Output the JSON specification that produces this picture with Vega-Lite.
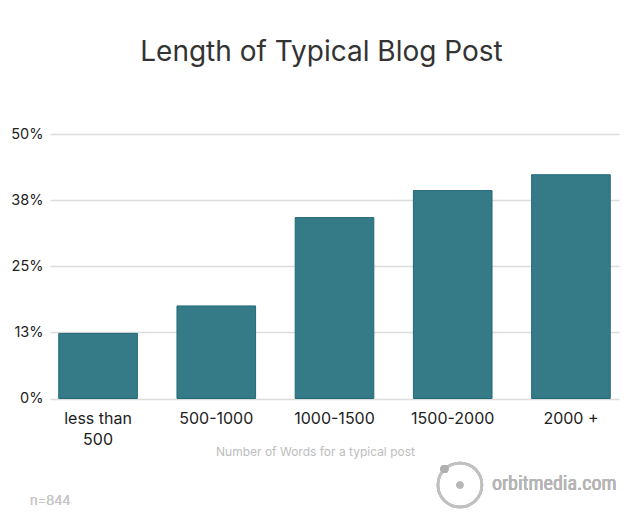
{
  "$schema": "https://vega.github.io/schema/vega-lite/v6.json",
  "width": 569,
  "height": 264.5,
  "autosize": {"type": "none"},
  "padding": {"left": 50, "top": 134, "right": 11, "bottom": 119.5},
  "background": "white",
  "config": {
    "font": "Inter",
    "view": {"stroke": null}
  },
  "title": {
    "text": "Length of Typical Blog Post",
    "fontSize": 28,
    "fontWeight": 400,
    "color": "#333333",
    "anchor": "middle",
    "baseline": "alphabetic",
    "offset": 37,
    "dx": -13
  },
  "data": {
    "values": [
      {"words": "less than 500", "share": 0.123},
      {"words": "500-1000", "share": 0.175},
      {"words": "1000-1500", "share": 0.342},
      {"words": "1500-2000", "share": 0.393},
      {"words": "2000 +", "share": 0.423}
    ]
  },
  "layer": [
    {
      "mark": {"type": "bar", "color": "#347b87", "stroke": "#23697a", "strokeWidth": 1},
      "encoding": {
        "x": {
          "field": "words",
          "type": "nominal",
          "sort": null,
          "scale": {
            "domain": ["less than 500", "500-1000", "1000-1500", "1500-2000", "2000 +"],
            "paddingInner": 0.335,
            "paddingOuter": 0.074
          },
          "axis": {
            "title": "Number of Words for a typical post",
            "titleFontSize": 12,
            "titleFontWeight": "normal",
            "titleColor": "#bdbdbd",
            "titleBaseline": "alphabetic",
            "titleX": 265,
            "titleY": 57,
            "labelExpr": "datum.value == 'less than 500' ? ['less than', '500'] : datum.value",
            "labelFontSize": 16,
            "labelColor": "#222222",
            "labelAngle": 0,
            "labelBaseline": "alphabetic",
            "labelLineHeight": 21,
            "labelPadding": 25,
            "ticks": false,
            "tickSize": 0,
            "domain": false
          }
        },
        "y": {
          "field": "share",
          "type": "quantitative",
          "scale": {"domain": [0, 0.5], "nice": false},
          "axis": {
            "title": null,
            "values": [0, 0.125, 0.25, 0.375, 0.5],
            "format": ".0%",
            "labelFontSize": 14.5,
            "labelColor": "#222222",
            "labelPadding": 7,
            "ticks": false,
            "tickSize": 0,
            "domain": false,
            "gridColor": "#dcdcdc",
            "gridWidth": 1.5
          }
        }
      }
    },
    {
      "mark": {"type": "text", "text": "n=844", "fontSize": 13, "fontWeight": 300, "color": "#c8c8c8", "align": "left", "baseline": "alphabetic", "dx": -68},
      "encoding": {
        "x": {"datum": "less than 500", "type": "nominal"},
        "y": {"datum": -0.2017, "type": "quantitative", "scale": {"domain": [0, 0.5], "nice": false}}
      }
    },
    {
      "mark": {"type": "text", "text": "orbitmedia.com", "font": "Roboto Condensed, DejaVu Sans Condensed, Roboto", "fontSize": 20, "fontStretch": "condensed", "color": "#b5b5b5", "align": "left", "baseline": "alphabetic", "dx": -79},
      "encoding": {
        "x": {"datum": "2000 +", "type": "nominal"},
        "y": {"datum": -0.173, "type": "quantitative", "scale": {"domain": [0, 0.5], "nice": false}}
      }
    },
    {
      "mark": {"type": "point", "shape": "circle", "filled": false, "stroke": "#c0c0c0", "strokeWidth": 2.5, "size": 1936, "opacity": 1},
      "encoding": {
        "x": {"datum": "1500-2000", "type": "nominal"},
        "xOffset": {"value": 46.5},
        "y": {"datum": -0.1635, "type": "quantitative", "scale": {"domain": [0, 0.5], "nice": false}}
      }
    },
    {
      "mark": {"type": "point", "shape": "circle", "filled": true, "color": "#b8b8b8", "size": 49, "opacity": 1},
      "encoding": {
        "x": {"datum": "1500-2000", "type": "nominal"},
        "xOffset": {"value": 46.5},
        "y": {"datum": -0.1635, "type": "quantitative", "scale": {"domain": [0, 0.5], "nice": false}}
      }
    },
    {
      "mark": {"type": "point", "shape": "circle", "filled": true, "color": "#b0b0b0", "size": 64, "opacity": 1},
      "encoding": {
        "x": {"datum": "1500-2000", "type": "nominal"},
        "xOffset": {"value": 31},
        "y": {"datum": -0.1333, "type": "quantitative", "scale": {"domain": [0, 0.5], "nice": false}}
      }
    }
  ]
}
